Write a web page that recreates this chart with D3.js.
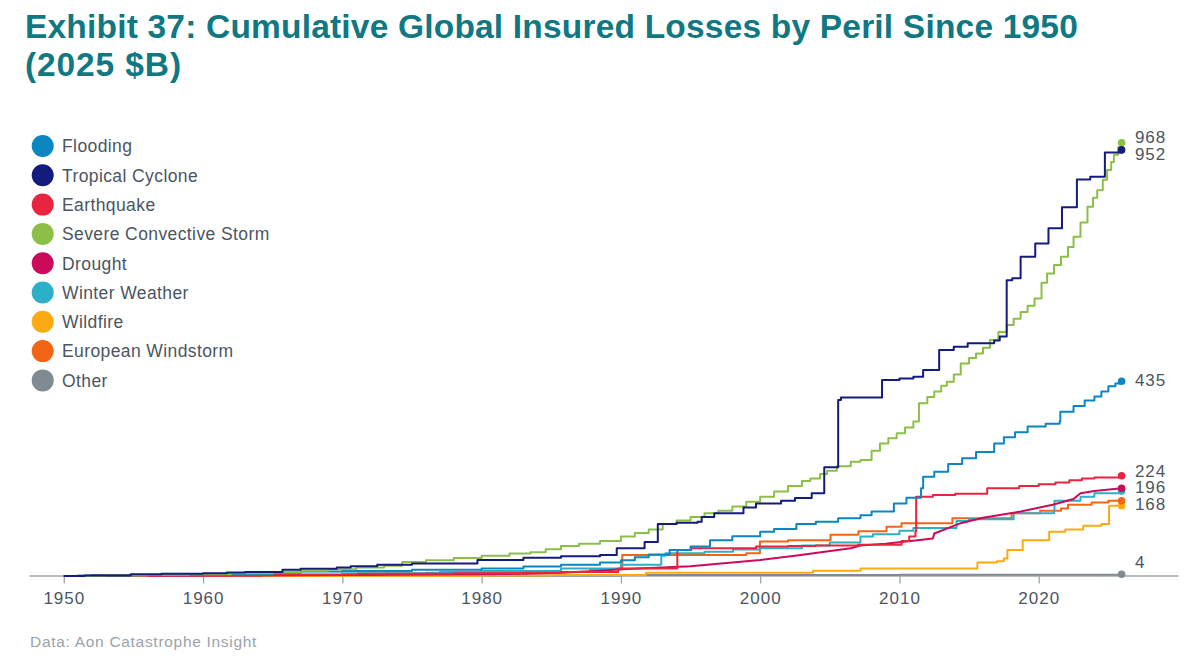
<!DOCTYPE html>
<html>
<head>
<meta charset="utf-8">
<script src="https://cdn.jsdelivr.net/npm/d3@7"></script>
<style>
  html, body { margin: 0; padding: 0; background: #fff; }
  svg { display: block; }
  text { font-family: "Liberation Sans", Arial, sans-serif; }
</style>
</head>
<body>
<svg id="chart" width="1204" height="662"></svg>
<script>
// ---- DATA (cumulative insured losses, 2025 $B; [year, cumulative value]) ----
const seriesNames = ["Flooding", "Tropical Cyclone", "Earthquake", "Severe Convective Storm",
  "Drought", "Winter Weather", "Wildfire", "European Windstorm", "Other"];

const flooding = [[1950,0],[1952,1],[1955,2],[1960,4],[1965,7],[1967,10],[1970,11],[1975,14],[1980,17],
  [1983,21],[1985.7,25],[1988.5,30],[1990,35],[1991,42],[1992,48],[1993.5,58],[1995,66],[1996.4,80],
  [1998,89],[2000,99],[2001,105],[2002.6,116],[2004,121],[2005.6,129],[2007.2,136],[2008,144],
  [2009.6,162],[2010.5,175],[2011.55,196],[2011.7,222],[2012.5,233],[2013.5,250],[2014.5,263],
  [2015.5,277],[2016.8,296],[2017.5,310],[2018.3,321],[2019.2,334],[2020.5,340],[2021.5,345],
  [2021.55,367],[2022.5,380],[2023.3,392],[2024,401],[2024.5,412],[2025.0,424],[2025.5,430],[2025.95,435]];

const tropicalCyclone = [[1950,0],[1951.5,1],[1954.8,4],[1957,5],[1960,6],[1961.7,8],[1963,9],
  [1965.7,14],[1967,16],[1969.6,19],[1970.6,22],[1972.5,25],[1975,28],[1979.7,36],[1983,41],
  [1985.7,44],[1988.5,47],[1989.7,62],[1991.7,76],[1992.65,116],[1994,119],[1995.5,121],
  [1995.8,132],[1996.7,140],[1998.8,153],[1999.7,162],[2001.5,168],[2002.5,174],[2003.7,185],
  [2004.6,243],[2005.6,393],[2005.8,399],[2008.75,438],[2010,441],[2011.0,445],[2011.7,460],
  [2012.85,505],[2013.9,512],[2014.9,520],[2016.8,526],[2017.2,535],[2017.7,661],[2018.1,665],
  [2018.7,713],[2019.75,743],[2020.7,777],[2021.67,824],[2022.74,886],[2023.7,892],
  [2024.75,946],[2025.95,952]];

const earthquake = [[1950,0],[1952,1],[1964.2,3],[1971.1,5],[1978,6],[1983,7],[1985.7,9],
  [1989.8,17],[1994.05,58],[1995.05,62],[1999.7,66],[2002,67],[2004,68],[2007,70],[2010.15,78],
  [2010.7,88],[2011.15,100],[2011.2,177],[2012.4,181],[2014,184],[2016.3,196],[2018.6,201],
  [2020,205],[2021.2,209],[2022.2,214],[2023.1,218],[2024,220],[2025.95,224]];

const severeConvectiveStorm = [[1950,0],[1953,1],[1956,3],[1959,4],[1962,6],[1965,9],[1967,12],
  [1969,15],[1971,19],[1973,23],[1974.3,31],[1976,35],[1978,40],[1980,45],[1982,50],[1983.5,53],
  [1984.6,60],[1985.7,67],[1987,72],[1988.5,78],[1990,88],[1991,96],[1992,104],[1993,116],
  [1994,124],[1995,132],[1996,140],[1997,146],[1998,155],[1999,166],[2000,177],[2001,189],
  [2002,201],[2003,212],[2003.6,218],[2004.3,228],[2004.8,235],[2005.5,245],[2006.5,255],
  [2007.2,259],[2008,280],[2008.6,296],[2009.2,308],[2009.8,319],[2010.4,332],[2011,345],
  [2011.4,386],[2012,400],[2012.5,412],[2013,425],[2013.4,434],[2013.9,450],[2014.4,475],
  [2015,487],[2015.5,497],[2016,510],[2016.5,527],[2017.1,545],[2017.7,561],[2018.2,575],
  [2018.7,590],[2019.2,604],[2019.7,620],[2020.2,655],[2020.6,676],[2021.1,695],[2021.6,713],
  [2022.1,735],[2022.5,758],[2023.0,790],[2023.5,825],[2023.9,845],[2024.2,862],[2024.6,885],
  [2024.9,907],[2025.2,925],[2025.4,941],[2025.7,958],[2025.95,968]];

const drought = [[1950,0],[1960,1],[1970,2],[1980,4],[1983,5],[1985.7,7],[1988.5,12],[1990,15],
  [1995,22],[2000,36],[2002.5,45],[2006.5,62],[2007.2,68],[2009,72],[2011.3,80],[2012.4,84],
  [2012.5,95],[2014.4,118],[2016,130],[2018.7,144],[2021,159],[2022.5,172],[2023,185],[2024,190],
  [2025.95,196]];

const winterWeather = [[1950,0],[1951,1],[1960,3],[1970,6],[1977,9],[1980,11],[1985.7,17],
  [1990,25],[1992.9,45],[1993.2,51],[1996,54],[1998.05,59],[2000,62],[2003,68],[2005,75],
  [2007.2,88],[2008.1,93],[2010,101],[2011,107],[2014.1,123],[2015,127],[2018.2,140],
  [2021.1,147],[2021.13,168],[2023,177],[2024,185],[2025.95,190]];

const wildfire = [[1950,0],[1970,0.5],[1980,1],[1985,2],[1991.8,7],[2003.8,12],[2007.2,17],
  [2015.6,30],[2017.0,33],[2017.5,39],[2017.75,58],[2018.85,80],[2020.75,99],[2021.9,104],
  [2023.2,112],[2024.5,116],[2025.05,157],[2025.95,157]];

const europeanWindstorm = [[1950,0],[1953,1],[1962,2],[1967,3],[1972.9,5],[1976,7],[1983,9],
  [1987.8,15],[1990.1,47],[1999,51],[1999.98,77],[2002,80],[2005.05,92],[2007.05,100],
  [2009.07,110],[2010.15,118],[2013.8,129],[2018.05,140],[2020.1,146],[2021.6,151],
  [2022.1,159],[2023.8,164],[2025,168],[2025.95,168]];

const other = [[1950,0],[1970,1],[1990,2],[2010,3],[2025.95,4]];

const seriesValues = [flooding, tropicalCyclone, earthquake, severeConvectiveStorm, drought,
  winterWeather, wildfire, europeanWindstorm, other];
const seriesColors = ["#0a86c0", "#131c7c", "#e8253f", "#8cbf47", "#cc0a5c", "#2bb0c8",
  "#fbaa12", "#f26516", "#7f8a91"];
const seriesStepped = [true, true, true, true, false, true, true, true, true];
const endLabelShown = [true, true, true, true, true, false, false, true, true];
const xTickYears = [1950, 1960, 1970, 1980, 1990, 2000, 2010, 2020];

const titleLines = ["Exhibit 37: Cumulative Global Insured Losses by Peril Since 1950", "(2025 $B)"];
const sourceText = "Data: Aon Catastrophe Insight";

// ---- DRAW ----
const svg = d3.select("#chart");
const x = d3.scaleLinear().domain([1947.5, 2030]).range([29, 1178]);
const y = d3.scaleLinear().domain([0, 1000]).range([576, 128.4]);

// Title (tracking fitted to the reference line widths)
const titleG = svg.append("g");
const titleWidths = [1053, 157];
titleLines.forEach((txt, k) => {
  const t = titleG.append("text").attr("x", 25).attr("y", k === 0 ? 38 : 75.5)
    .attr("font-size", 33.5).attr("font-weight", "bold").attr("fill", "#0f7883")
    .text(txt);
  const nat = t.node().getComputedTextLength();
  t.attr("letter-spacing", (titleWidths[k] - nat) / txt.length);
});

// Legend
const legend = svg.append("g");
seriesNames.forEach((name, i) => {
  const cy = 146 + i * 29.3;
  legend.append("circle").attr("cx", 42.7).attr("cy", cy).attr("r", 11).attr("fill", seriesColors[i]);
  legend.append("text").attr("x", 62).attr("y", cy).attr("dy", "0.36em")
    .attr("font-size", 17.5).attr("letter-spacing", 0.4).attr("fill", "#4b5563").text(name);
});

// Axis
const axis = d3.axisBottom(x).tickValues(xTickYears).tickFormat(d3.format("d"))
  .tickSize(8).tickSizeOuter(0).tickPadding(8.5);
const axG = svg.append("g").attr("transform", "translate(0,575.5)").call(axis);
axG.select(".domain").attr("stroke", "#9ca6ad").attr("stroke-width", 1.6);
axG.selectAll(".tick line").attr("stroke", "#9ca6ad").attr("stroke-width", 1.3);
axG.selectAll(".tick text").attr("fill", "#4b5563").attr("font-size", 17)
  .attr("letter-spacing", 1).attr("font-family", "Liberation Sans, Arial, sans-serif");

// Lines
const stepLine = d3.line().x(d => x(d[0])).y(d => y(d[1])).curve(d3.curveStepAfter);
const smoothLine = d3.line().x(d => x(d[0])).y(d => y(d[1])).curve(d3.curveLinear);
const drawOrder = [8, 6, 7, 5, 4, 2, 0, 3, 1];
const linesG = svg.append("g");
drawOrder.forEach(i => {
  linesG.append("path").datum(seriesValues[i])
    .attr("d", seriesStepped[i] ? stepLine : smoothLine)
    .attr("fill", "none").attr("stroke", seriesColors[i]).attr("stroke-width", 2)
    .attr("stroke-linejoin", "round");
});
drawOrder.forEach(i => {
  const last = seriesValues[i][seriesValues[i].length - 1];
  linesG.append("circle").attr("cx", x(last[0])).attr("cy", y(last[1])).attr("r", 3.8)
    .attr("fill", seriesColors[i]);
});

// End labels with simple collision resolution
let labels = seriesValues.map((s, i) => {
  const last = s[s.length - 1];
  return { i, v: last[1], x: x(last[0]), target: Math.min(y(last[1]), 563) };
}).filter(d => endLabelShown[d.i]).sort((a, b) => a.target - b.target);
const gap = 16.8;
let clusters = labels.map(d => ({ items: [d], top: d.target }));
let changed = true;
while (changed) {
  changed = false;
  for (let k = 0; k < clusters.length - 1; k++) {
    const a = clusters[k], b = clusters[k + 1];
    const aBottom = a.top + (a.items.length - 1) * gap;
    if (b.top - aBottom < gap) {
      const items = a.items.concat(b.items);
      const mean = d3.mean(items, d => d.target);
      const top = mean - (items.length - 1) * gap / 2;
      clusters.splice(k, 2, { items, top });
      changed = true;
      break;
    }
  }
}
clusters.forEach(c => c.items.forEach((d, j) => { d.ly = c.top + j * gap; }));
svg.append("g").selectAll("text").data(labels).join("text")
  .attr("x", 1135).attr("y", d => d.ly - 1).attr("dy", "0.36em")
  .attr("font-size", 17).attr("letter-spacing", 0.9).attr("fill", "#4b5563")
  .text(d => d3.format("d")(d.v));

// Source
svg.append("text").attr("x", 30).attr("y", 646.5).attr("font-size", 15.5)
  .attr("letter-spacing", 0.7).attr("fill", "#9aa3ab").text(sourceText);
</script>
</body>
</html>
